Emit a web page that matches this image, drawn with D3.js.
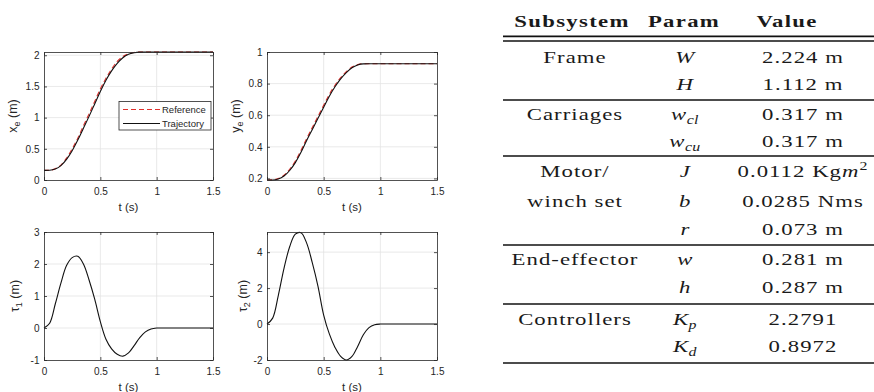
<!DOCTYPE html>
<html>
<head>
<meta charset="utf-8">
<script src="https://cdn.jsdelivr.net/npm/d3@7"></script>
<style>
  body { margin: 0; background: #fff; }
  svg { display: block; }
</style>
</head>
<body>
<script>
// time axis (s), sampled every 0.05 s
const timeS = [0, 0.05, 0.1, 0.15, 0.2, 0.25, 0.3, 0.35, 0.4, 0.45, 0.5, 0.55, 0.6, 0.65, 0.7, 0.75,
  0.8, 0.85, 0.9, 0.95, 1.0, 1.05, 1.1, 1.15, 1.2, 1.25, 1.3, 1.35, 1.4, 1.45, 1.5];

// end-effector x (m)
const xeRef = [0.155, 0.158, 0.18, 0.24, 0.35, 0.50, 0.67, 0.87, 1.06, 1.26, 1.46, 1.63, 1.78, 1.90, 1.98, 2.025,
  2.045, 2.051, 2.052, 2.052, 2.052, 2.052, 2.052, 2.052, 2.052, 2.052, 2.052, 2.052, 2.052, 2.052, 2.052];
const xeTraj = [0.155, 0.157, 0.175, 0.23, 0.33, 0.47, 0.64, 0.83, 1.02, 1.22, 1.42, 1.60, 1.75, 1.87, 1.96, 2.015,
  2.04, 2.05, 2.052, 2.052, 2.052, 2.052, 2.052, 2.052, 2.052, 2.052, 2.052, 2.052, 2.052, 2.052, 2.052];

// end-effector y (m)
const yeRef = [0.19, 0.191, 0.199, 0.22, 0.258, 0.31, 0.378, 0.452, 0.523, 0.593, 0.663, 0.732, 0.79, 0.838, 0.876, 0.905,
  0.92, 0.926, 0.926, 0.926, 0.926, 0.926, 0.926, 0.926, 0.926, 0.926, 0.926, 0.926, 0.926, 0.926, 0.926];
const yeTraj = [0.19, 0.19, 0.196, 0.215, 0.25, 0.30, 0.365, 0.44, 0.51, 0.58, 0.65, 0.72, 0.78, 0.83, 0.87, 0.90,
  0.918, 0.925, 0.926, 0.926, 0.926, 0.926, 0.926, 0.926, 0.926, 0.926, 0.926, 0.926, 0.926, 0.926, 0.926];

// motor torques
const tau1 = [0, 0.15, 0.75, 1.4, 1.95, 2.2, 2.24, 2.0, 1.5, 0.9, 0.2, -0.35, -0.65, -0.82, -0.88, -0.78,
  -0.55, -0.3, -0.12, -0.03, 0, 0, 0, 0, 0, 0, 0, 0, 0, 0, 0];
const tau2 = [0, 0.33, 1.6, 3.1, 4.3, 5.0, 5.08, 4.5, 3.4, 2.1, 0.5, -0.55, -1.3, -1.8, -2.0, -1.8,
  -1.25, -0.6, -0.2, -0.04, 0, 0, 0, 0, 0, 0, 0, 0, 0, 0, 0];

// tick values
const tTicks = [0, 0.5, 1, 1.5];
const xeTicks = [0, 0.5, 1, 1.5, 2];
const yeTicks = [0.2, 0.4, 0.6, 0.8, 1];
const tau1Ticks = [-1, 0, 1, 2, 3];
const tau2Ticks = [-2, 0, 2, 4];

const legendLabels = ['Reference', 'Trajectory'];

// parameter table
const tableHeader = ['Subsystem', 'Param', 'Value'];
const subsystemCol = ['Frame', '', 'Carriages', '', 'Motor/', 'winch set', '', 'End-effector', '', 'Controllers', ''];
const paramSym = ['W', 'H', 'w', 'w', 'J', 'b', 'r', 'w', 'h', 'K', 'K'];
const paramSub = ['', '', 'cl', 'cu', '', '', '', '', '', 'p', 'd'];
const valueCol = ['2.224 m', '1.112 m', '0.317 m', '0.317 m', '0.0112 Kg', '0.0285 Nms', '0.073 m', '0.281 m', '0.287 m', '2.2791', '0.8972'];

const W = 874, H = 392;
const svg = d3.select('body').append('svg').attr('width', W).attr('height', H);

const sans = 'Liberation Sans, Arial, Helvetica, sans-serif';
const serif = 'Liberation Serif, Times New Roman, serif';
const axisColor = '#262626';
const gridColor = '#e3e3e3';
const refColor = '#e0302c';

const panels = [
  { left: 44, top: 52, right: 213, bottom: 180, yDomain: [0, 2.052], yTicks: xeTicks,
    ref: xeRef, traj: xeTraj, sym: 'x', sub: 'e', labelX: 13, legend: true, curve: d3.curveMonotoneX },
  { left: 267, top: 52, right: 437, bottom: 180, yDomain: [0.19, 1], yTicks: yeTicks,
    ref: yeRef, traj: yeTraj, sym: 'y', sub: 'e', labelX: 236, curve: d3.curveMonotoneX },
  { left: 44, top: 232, right: 213, bottom: 360, yDomain: [-1, 3], yTicks: tau1Ticks,
    traj: tau1, sym: 'τ', sub: '1', labelX: 15, curve: d3.curveCatmullRom },
  { left: 267, top: 232, right: 437, bottom: 360, yDomain: [-2, 5.12], yTicks: tau2Ticks,
    traj: tau2, sym: 'τ', sub: '2', labelX: 243, curve: d3.curveCatmullRom }
];

const fmt = d => String(d);

function styleAxis(sel) {
  sel.attr('color', axisColor).attr('font-family', sans).attr('font-size', 10);
  sel.selectAll('.domain').attr('stroke-width', 0.8);
  sel.selectAll('.tick line').attr('stroke-width', 0.8);
  sel.selectAll('text').attr('fill', axisColor);
}

panels.forEach(p => {
  const x = d3.scaleLinear().domain([0, 1.5]).range([p.left, p.right]);
  const y = d3.scaleLinear().domain(p.yDomain).range([p.bottom, p.top]);
  const g = svg.append('g');

  // grid
  g.append('g').selectAll('line').data(tTicks.slice(1, -1)).join('line')
    .attr('x1', d => x(d)).attr('x2', d => x(d))
    .attr('y1', p.top).attr('y2', p.bottom)
    .attr('stroke', gridColor).attr('stroke-width', 0.8);
  g.append('g').selectAll('line').data(p.yTicks.filter(d => y(d) < p.bottom - 1 && y(d) > p.top + 1)).join('line')
    .attr('x1', p.left).attr('x2', p.right)
    .attr('y1', d => y(d)).attr('y2', d => y(d))
    .attr('stroke', gridColor).attr('stroke-width', 0.8);

  // curves
  const line = d3.line().x((d, i) => x(timeS[i])).y(d => y(d)).curve(p.curve);
  if (p.ref) {
    g.append('path').datum(p.ref).attr('d', line)
      .attr('fill', 'none').attr('stroke', refColor).attr('stroke-width', 1.1)
      .attr('stroke-dasharray', '5,3');
  }
  g.append('path').datum(p.traj).attr('d', line)
    .attr('fill', 'none').attr('stroke', '#111').attr('stroke-width', 1.1);

  // axes (box with inward ticks)
  g.append('g').attr('transform', `translate(0,${p.bottom})`)
    .call(d3.axisBottom(x).tickValues(tTicks).tickFormat(fmt).tickSizeInner(-3).tickSizeOuter(0).tickPadding(8))
    .call(styleAxis);
  g.append('g').attr('transform', `translate(0,${p.top})`)
    .call(d3.axisTop(x).tickValues(tTicks).tickFormat('').tickSizeInner(-3).tickSizeOuter(0))
    .call(styleAxis);
  g.append('g').attr('transform', `translate(${p.left},0)`)
    .call(d3.axisLeft(y).tickValues(p.yTicks).tickFormat(fmt).tickSizeInner(-3).tickSizeOuter(0).tickPadding(4.5))
    .call(styleAxis);
  g.append('g').attr('transform', `translate(${p.right},0)`)
    .call(d3.axisRight(y).tickValues(p.yTicks).tickFormat('').tickSizeInner(-3).tickSizeOuter(0))
    .call(styleAxis);

  // x label
  g.append('text')
    .attr('x', (p.left + p.right) / 2).attr('y', p.bottom + 31)
    .attr('text-anchor', 'middle').attr('font-family', sans).attr('font-size', 11.5)
    .attr('fill', axisColor).text('t (s)');

  // y label
  const yl = g.append('text')
    .attr('transform', `translate(${p.labelX},${(p.top + p.bottom) / 2}) rotate(-90)`)
    .attr('text-anchor', 'middle').attr('dominant-baseline', 'central')
    .attr('font-family', sans).attr('font-size', 12.5).attr('fill', axisColor);
  yl.append('tspan').text(p.sym);
  yl.append('tspan').attr('font-size', 9).attr('dy', 3.5).text(p.sub);
  yl.append('tspan').attr('dy', -3.5).text(' (m)');

  if (p.legend) {
    const lg = g.append('g').attr('transform', 'translate(119,101.5)');
    lg.append('rect').attr('width', 92).attr('height', 28.5)
      .attr('fill', '#fff').attr('stroke', axisColor).attr('stroke-width', 0.8);
    legendLabels.forEach((lab, i) => {
      const yy = 8 + i * 14;
      lg.append('line').attr('x1', 4).attr('x2', 41).attr('y1', yy).attr('y2', yy)
        .attr('stroke', i === 0 ? refColor : '#111').attr('stroke-width', 1.1)
        .attr('stroke-dasharray', i === 0 ? '5,3' : null);
      lg.append('text').attr('x', 43).attr('y', yy + 3.4)
        .attr('font-family', sans).attr('font-size', 9.5).attr('fill', axisColor).text(lab);
    });
  }
});

// ---------- table ----------
const kx = 1.3;
const fs = 17.5;
const colX = [575, 685, 803];
const headerX = [572, 684, 787];
const rowY = [63, 90, 120, 147, 177, 207, 235, 265, 293, 325, 352];
const ruleY = [100, 156, 245, 304];
const tbl = svg.append('g').attr('font-family', serif).attr('font-size', fs).attr('fill', '#1a1a1a');

function cell(cx, cy) {
  return tbl.append('text')
    .attr('transform', `translate(${cx},${cy}) scale(${kx},1)`)
    .attr('text-anchor', 'middle')
    .attr('letter-spacing', 0.8);
}

tableHeader.forEach((h, i) => {
  cell(headerX[i], 26.5).attr('font-weight', 'bold').attr('letter-spacing', 1).text(h);
});

// rules
const rule = (yy, w) => tbl.append('line').attr('x1', 503).attr('x2', 874)
  .attr('y1', yy).attr('y2', yy).attr('stroke', '#111').attr('stroke-width', w);
rule(36.3, 1.8);
rule(41, 1.3);
ruleY.forEach(yy => rule(yy, 1.5));
rule(363, 1.6);

subsystemCol.forEach((s, i) => { if (s) cell(colX[0], rowY[i]).text(s); });

paramSym.forEach((s, i) => {
  const t = cell(colX[1], rowY[i]).attr('font-style', 'italic').attr('letter-spacing', 0.3);
  t.append('tspan').text(s);
  if (paramSub[i]) t.append('tspan').attr('font-size', fs * 0.7).attr('dy', 3.5).text(paramSub[i]);
});

valueCol.forEach((v, i) => {
  const t = cell(colX[2], rowY[i]);
  t.append('tspan').text(v);
  if (i === 4) {
    t.append('tspan').attr('font-style', 'italic').text('m');
    t.append('tspan').attr('font-size', fs * 0.7).attr('dy', -7).text('2');
  }
});
</script>
</body>
</html>
